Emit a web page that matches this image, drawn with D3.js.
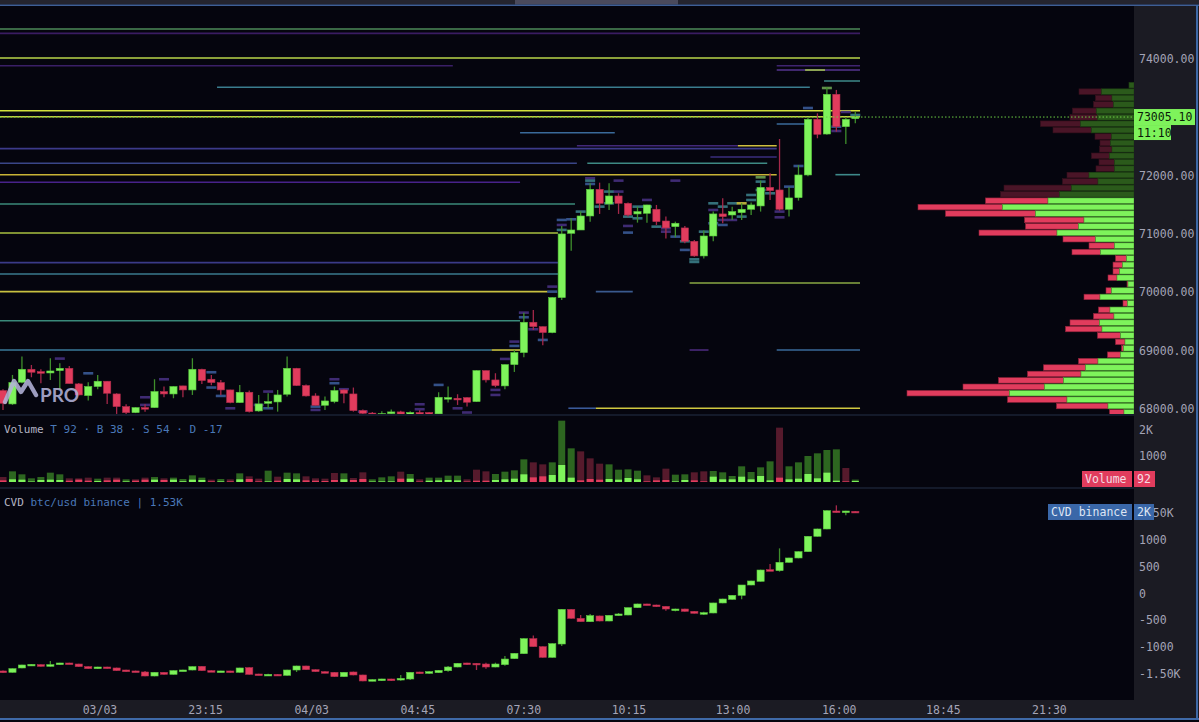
<!DOCTYPE html>
<html><head><meta charset="utf-8">
<script src="https://cdn.jsdelivr.net/npm/d3@7"></script>
<style>html,body{margin:0;padding:0;background:#05050e;overflow:hidden}</style>
</head><body><script>
// ---------------- DATA ----------------
// price candles [open, high, low, close], 15m bars
const priceOHLC = [
[68316,68340,67984,68098],[68087,68584,68070,68453],[68459,68898,68440,68681],[68681,68755,68544,68630],
[68641,68681,68442,68612],[68618,68870,68498,68652],[68658,68784,68339,68698],[68698,68738,68436,68436],
[68430,68445,68230,68241],[68230,68459,68144,68385],[68385,68584,68339,68476],[68476,68480,68087,68270],
[68258,68270,67915,68041],[68041,68081,67915,67938],[67938,68030,67930,68024],[68024,68081,67955,68001],
[68024,68510,68020,68299],[68299,68385,68201,68258],[68258,68390,68184,68385],[68396,68400,68201,68327],
[68327,68870,68241,68681],[68681,68690,68430,68487],[68510,68584,68408,68453],[68453,68498,68241,68327],
[68327,68330,68098,68110],[68110,68413,68105,68287],[68287,68316,67940,67955],[67967,68241,67955,68087],
[68098,68270,68012,68127],[68121,68327,67955,68241],[68253,68898,68213,68698],[68698,68705,68395,68402],
[68402,68420,68215,68224],[68224,68270,68060,68064],[68064,68213,67984,68138],[68127,68385,68098,68316],
[68327,68339,68098,68270],[68258,68368,67955,67972],[67972,67990,67910,67927],[67930,67950,67850,67900],
[67900,67960,67860,67920],[67920,67990,67880,67950],[67950,67970,67870,67910],[67910,67960,67870,67940],
[67940,67980,67880,67920],[67939,67950,67900,67916],[67916,68287,67900,68201],[68190,68384,68110,68196],
[68184,68253,68070,68156],[68196,68200,68041,68116],[68127,68665,68120,68658],[68658,68660,68453,68498],
[68498,68613,68373,68401],[68396,68765,68338,68761],[68761,69012,68635,68967],[68967,69652,68887,69487],
[69487,69698,69355,69412],[69412,69415,69093,69310],[69310,69915,69298,69910],[69910,71138,69870,71001],
[71012,71269,70715,71069],[71069,71384,71069,71309],[71309,71869,71212,71766],[71766,71880,71344,71526],
[71515,71869,71412,71652],[71652,71698,71344,71526],[71526,71538,71298,71326],[71344,71469,71195,71384],
[71355,71500,71195,71498],[71424,71498,71155,71212],[71223,71298,70921,71104],[71126,71212,70944,71184],
[71104,71138,70841,70875],[70875,70898,70612,70624],[70624,71058,70578,70966],[70966,71384,70875,71344],
[71344,71612,71184,71298],[71326,71469,71241,71384],[71366,71526,71241,71424],[71424,71538,71326,71498],
[71481,71915,71384,71800],[71800,72040,71583,71743],[71755,72629,71400,71424],[71424,71800,71298,71618],
[71623,72183,71572,72012],[72012,73000,71990,72966],[72966,73069,72641,72709],[72714,73515,72700,73395],
[73395,73470,72754,72840],[72840,72990,72543,72966],[72980,73090,72900,73005.1]
];
// CVD candles [open, high, low, close]
const cvdOHLC = [
[-1448,-1440,-1486,-1480],[-1473,-1400,-1480,-1405],[-1392,-1330,-1398,-1336],[-1343,-1318,-1348,-1324],
[-1330,-1324,-1367,-1361],[-1361,-1262,-1367,-1330],[-1330,-1295,-1336,-1299],[-1299,-1295,-1324,-1318],
[-1318,-1311,-1374,-1367],[-1367,-1361,-1411,-1405],[-1405,-1367,-1411,-1374],[-1374,-1367,-1405,-1399],
[-1392,-1386,-1448,-1442],[-1430,-1424,-1467,-1461],[-1448,-1442,-1473,-1467],[-1467,-1448,-1548,-1542],
[-1542,-1467,-1548,-1473],[-1473,-1467,-1517,-1511],[-1511,-1436,-1517,-1442],[-1448,-1424,-1454,-1430],
[-1430,-1361,-1436,-1367],[-1361,-1355,-1448,-1442],[-1442,-1436,-1467,-1461],[-1467,-1442,-1473,-1448],
[-1448,-1442,-1480,-1473],[-1473,-1386,-1480,-1392],[-1386,-1380,-1517,-1511],[-1505,-1498,-1529,-1523],
[-1529,-1498,-1536,-1511],[-1511,-1505,-1542,-1536],[-1529,-1424,-1536,-1430],[-1430,-1349,-1467,-1355],
[-1355,-1349,-1430,-1424],[-1424,-1418,-1467,-1461],[-1461,-1455,-1492,-1486],[-1473,-1467,-1560,-1554],
[-1554,-1467,-1560,-1473],[-1467,-1461,-1529,-1523],[-1523,-1517,-1642,-1635],[-1635,-1604,-1642,-1610],
[-1629,-1592,-1635,-1598],[-1598,-1592,-1635,-1629],[-1617,-1524,-1630,-1586],[-1598,-1470,-1617,-1474],
[-1468,-1462,-1498,-1492],[-1492,-1449,-1505,-1461],[-1480,-1430,-1486,-1436],[-1443,-1355,-1461,-1374],
[-1374,-1299,-1380,-1305],[-1299,-1293,-1336,-1330],[-1305,-1299,-1430,-1330],[-1318,-1293,-1405,-1374],
[-1374,-1293,-1380,-1318],[-1330,-1168,-1349,-1225],[-1218,-1112,-1224,-1118],[-1125,-838,-1131,-844],
[-844,-783,-994,-994],[-994,-988,-1199,-1193],[-1193,-932,-1199,-938],[-944,-290,-981,-296],
[-296,-290,-470,-464],[-464,-402,-527,-527],[-527,-383,-533,-414],[-420,-414,-520,-514],
[-514,-402,-520,-408],[-402,-364,-414,-383],[-402,-265,-408,-265],[-265,-190,-271,-196],
[-196,-190,-221,-215],[-215,-209,-252,-246],[-240,-234,-321,-290],[-308,-284,-333,-290],
[-290,-284,-339,-333],[-333,-327,-376,-370],[-377,-339,-401,-358],[-364,-171,-370,-177],
[-177,-97,-183,-103],[-109,-28,-115,-34],[-34,159,-109,159],[159,240,153,234],
[228,445,222,439],[445,551,420,420],[427,844,408,583],[583,670,577,664],
[664,788,658,782],[782,1075,776,1069],[1069,1212,1063,1206],[1206,1554,1200,1548],
[1542,1648,1511,1517],[1524,1548,1461,1542],[1536,1542,1511,1517]
];
// volume: total and highlighted (aggressive) part, side g/r
const volumeTotal = [192,410,295,141,192,359,295,141,141,167,128,167,167,103,103,167,192,141,167,115,256,167,90,115,103,333,218,128,436,205,
359,333,218,141,128,346,333,154,372,103,179,218,397,308,103,167,167,244,244,103,474,410,308,397,449,872,756,679,756,2359,
1295,1179,910,705,679,474,487,436,256,179,513,282,295,372,410,423,372,231,603,385,564,795,2090,603,756,1000,1103,1231,1256,538,92];
const volumeBright = [64,103,90,20,77,90,77,51,90,51,38,64,90,25,51,90,90,77,90,30,90,77,25,25,25,103,115,25,25,51,
115,103,64,51,38,77,103,77,115,20,25,25,128,128,20,51,64,77,64,20,51,51,77,103,128,295,179,218,269,654,
167,64,115,90,115,90,154,103,25,64,77,25,77,64,25,205,103,103,205,103,231,64,167,103,128,308,141,359,51,25,38];
const volumeSide = "rggggggrrrgrrgrrgrggggrgrgrrgrggrrrrgrrgggrgrggggrrrggggrrgggrrrggggrrrggrrgggggggrggggggrgr";
// right-side volume profile: level (row centre), buy and sell volume
const profileLevels = [73550,73440,73330,73220,73110,73000,72890,72780,72670,72560,72450,72340,72230,72120,72010,71900,71790,71680,
71570,71460,71350,71240,71130,71020,70910,70800,70690,70580,70470,70360,70250,70140,70030,69920,69810,69700,69590,69480,69370,
69260,69150,69040,68930,68820,68710,68600,68490,68380,68270,68160,68050,67940];
const profileBuy = [10,65,44,41,75,73,107,85,45,47,44,49,39,39,90,72,125,149,
172,263,197,100,111,154,77,39,67,15,23,29,34,12,45,68,13,48,40,69,64,
27,18,21,27,72,97,106,141,179,249,134,52,20];
const profileSell = [0,45,33,40,48,55,80,77,33,21,25,36,31,37,44,71,135,118,
125,169,180,119,106,156,65,51,57,22,19,13,18,2,11,32,9,23,41,59,73,
46,19,4,26,39,84,107,130,163,205,119,103,29];
const valueAreaHigh = 71620; // rows above are drawn dimmed
// order-book level lines [price, fromBar, toBar, colour]
const levelLines = [
[74514,-1,90.5,"#4c8a58"],[74440,-1,90.5,"#3a1c62"],[74017,-1,90.5,"#b8d64a"],[73885,-1,47.5,"#3a1f66"],
[73885,81.7,90.5,"#3f2470"],[73811,81.7,90.5,"#55358f"],[73811,84.7,86.8,"#a0c050"],[73623,86.7,90.5,"#3e8a8a"],
[73515,22.6,85.2,"#3a7d8e"],[73114,-1,90.5,"#d4e23c"],[73011,-1,90.5,"#c9cf3e"],[72886,81.7,85.2,"#3a6a9a"],
[72737,54.6,64.6,"#3a6a9a"],[72514,60.6,77.6,"#43287a"],[72514,77.6,81.7,"#d0c040"],[72463,-1,81.7,"#3c3a8a"],
[72320,74.7,81.7,"#3a2e7e"],[72212,-1,60.6,"#3a4688"],[72212,61.7,80.7,"#3e8a84"],[72017,-1,81.7,"#c8b436"],
[72017,87.9,90.5,"#3e8a8a"],[71887,-1,54.6,"#48228a"],[71515,-1,60.4,"#3b8a7a"],[71018,-1,58.6,"#a8c040"],
[70509,-1,58.6,"#3a3a88"],[70315,-1,58.6,"#3a7a8e"],[70161,72.5,90.5,"#8aa844"],[70012,-1,57.5,"#c8c040"],
[70012,62.6,66.5,"#3a5a8e"],[69514,-1,54.6,"#3a8a7a"],[69011,-1,51.6,"#3a7a9a"],[69011,51.6,54.6,"#c8c040"],
[69011,72.5,74.5,"#4a2a7a"],[69011,81.7,90.5,"#3a6a9a"],[68013,59.7,62.6,"#3a5a9a"],[68013,62.6,90.5,"#d0c840"]
];
// short order-book blips next to the candles [bar, price, kind]
const heatMarks = [
[6,68864,"p"],[9,68612,"b"],[15,68201,"p"],[15,68070,"p"],[17,68510,"p"],[22,68630,"b"],[22,68368,"b"],[23,68224,"b"],
[24,68012,"p"],[27,68070,"p"],[28,68299,"p"],[28,68012,"b"],[33,68041,"b"],[33,67984,"p"],[35,68510,"p"],[35,68442,"b"],
[36,68339,"p"],[38,67955,"p"],[44,68081,"p"],[44,67996,"p"],[46,68413,"b"],[48,68012,"p"],[49,67940,"p"],
[52,68241,"p"],[52,68327,"p"],[53,68858,"p"],[54,69155,"p"],[54,69081,"b"],[55,69652,"p"],[55,69573,"b"],
[56,69367,"p"],[57,69184,"b"],[58,70098,"p"],[58,70012,"b"],[59,71241,"b"],[59,71155,"p"],[59,71070,"t"],
[60,71252,"b"],[61,71384,"t"],[62,71955,"p"],[62,71915,"t"],[62,71858,"b"],[63,71469,"t"],[64,71727,"t"],[64,71526,"t"],
[65,71915,"p"],[65,71727,"p"],[66,71298,"t"],[66,71138,"p"],[66,71024,"b"],[67,71469,"t"],[67,71269,"t"],
[68,71584,"p"],[68,71469,"t"],[69,71126,"t"],[70,71098,"p"],[70,71040,"p"],[71,71915,"p"],[71,70955,"b"],
[72,70727,"b"],[72,70875,"t"],[73,70566,"t"],[73,70521,"t"],[74,71040,"t"],[75,71526,"t"],[75,71412,"p"],[75,71184,"b"],
[76,71469,"t"],[76,71241,"p"],[76,71155,"b"],[77,71526,"t"],[77,71241,"p"],[78,71526,"y"],[78,71298,"t"],
[79,71669,"t"],[79,71583,"t"],[80,71972,"g"],[80,71898,"t"],[80,71755,"t"],[81,71698,"t"],[82,71384,"p"],[82,71286,"p"],
[83,71812,"b"],[84,72166,"b"],[85,73160,"b"],[87,73503,"g"],[88,72766,"p"],[88,72840,"b"],[89,73092,"p"],[90,73040,"t"]
];
const priceTicks = [68000,69000,70000,71000,72000,73000,74000];
const volumeTicks = [1000,2000];
const cvdTicks = [-1500,-1000,-500,0,500,1000,1500];
const timeTickBars = [10.24,21.4,32.6,43.8,55.0,66.1,77.1,88.3,99.3,110.5];
const timeTickLabels = ["03/03","23:15","04/03","04:45","07:30","10:15","13:00","16:00","18:45","21:30"];
const lastPrice = 73005.10, countdown = "11:10";
const volumeHeader = {T:92,B:38,S:54,D:-17};
const cvdHeader = "btc/usd binance | 1.53K";

// ---------------- DRAW ----------------
const W = 1199, H = 722, AX = 1134;
const C = {bg:"#05050e", axis:"#1b1b23", txt:"#a4a4b6", up:"#7ef35b", dn:"#e13c5d", upW:"#3f8f2c", dnW:"#a5284a",
  upD:"#2d6620", dnD:"#561a2c", blue:"#4a78b8"};
const markCol = {p:"#46307e", b:"#3a5a96", t:"#3a7c86", y:"#c8c040", g:"#6aa050"};
const font = "'DejaVu Sans Mono', monospace";
const svg = d3.select("body").append("svg").attr("width",W).attr("height",H).style("display","block");
svg.append("rect").attr("width",W).attr("height",H).attr("fill",C.bg);

const x = d3.scaleLinear().domain([0, priceOHLC.length-1]).range([3, 855.3]);
const yP = d3.scaleLinear().domain([68000,74000]).range([409,59]);
const yV = d3.scaleLinear().domain([0,2000]).range([482,430]);
const yC = d3.scaleLinear().domain([-1000,1000]).range([647,540]);

const defs = svg.append("defs");
function clip(id,y0,y1){ defs.append("clipPath").attr("id",id).append("rect").attr("x",0).attr("y",y0).attr("width",AX).attr("height",y1-y0); }
clip("cp",6,414); clip("cv",415,487); clip("cc",489,700);

// price pane
const gP = svg.append("g").attr("clip-path","url(#cp)");
gP.selectAll("line.lvl").data(levelLines).join("line").attr("class","lvl")
  .attr("x1",d=>Math.max(0,x(d[1]))).attr("x2",d=>x(d[2])).attr("y1",d=>yP(d[0])).attr("y2",d=>yP(d[0]))
  .attr("stroke",d=>d[3]).attr("stroke-width",1.6);
gP.selectAll("rect.hm").data(heatMarks).join("rect").attr("class","hm")
  .attr("x",d=>x(d[0])-5).attr("y",d=>yP(d[1])-1.3).attr("width",10).attr("height",2.6)
  .attr("fill",d=>markCol[d[2]]).attr("opacity",0.9);

// volume profile
const rowH = yP(0) - yP(110);
const xProf = d3.scaleLinear().domain([0,100]).range([0,50]);
const gProf = gP.append("g");
profileLevels.forEach((lv,i)=>{
  const dim = lv > valueAreaHigh;
  const yy = yP(lv) - rowH/2 + 0.4, hh = rowH - 0.9;
  const bw = xProf(profileBuy[i]), sw = xProf(profileSell[i]);
  gProf.append("rect").attr("x",AX-bw-sw).attr("y",yy).attr("width",sw).attr("height",hh)
    .attr("fill",dim?"#4a1527":C.dn).attr("stroke",dim?"#35101c":"#8a2038").attr("stroke-width",0.6);
  gProf.append("rect").attr("x",AX-bw).attr("y",yy).attr("width",bw).attr("height",hh)
    .attr("fill",dim?"#2b5a1b":C.up).attr("stroke",dim?"#1f4213":"#4a9a30").attr("stroke-width",0.6);
});

function candles(g, data, y){
  const gg = g.append("g");
  data.forEach((d,i)=>{
    const [o,h,l,c] = d, up = c>=o, cx = x(i);
    gg.append("line").attr("x1",cx).attr("x2",cx).attr("y1",y(h)).attr("y2",y(l))
      .attr("stroke",up?C.upW:C.dnW).attr("stroke-width",1.3);
    const top = Math.min(y(o),y(c)), hh = Math.max(1.6, Math.abs(y(o)-y(c)));
    gg.append("rect").attr("x",cx-3.6).attr("y",top).attr("width",7.2).attr("height",hh)
      .attr("fill",up?C.up:C.dn).attr("stroke",up?"#5ac83e":"#b02c4c").attr("stroke-width",0.6);
  });
}
candles(gP, priceOHLC, yP);

// current price dotted line
svg.append("line").attr("x1",0).attr("x2",AX).attr("y1",yP(lastPrice)).attr("y2",yP(lastPrice))
  .attr("stroke","#6ccf45").attr("stroke-width",1).attr("stroke-dasharray","1.5,2");

// logo
const gL = svg.append("g").attr("opacity",0.88);
gL.append("path").attr("d","M5,402 L14,381 L21,392 L28,381 L36,395")
  .attr("fill","none").attr("stroke","#b3b3d8").attr("stroke-width",4.4).attr("stroke-linejoin","round").attr("stroke-linecap","round");
gL.append("text").attr("x",40).attr("y",402).text("PRO").attr("fill","#b3b3d8")
  .attr("font-family","Lato, 'Open Sans', sans-serif").attr("font-size",19).attr("font-weight",700);

// separators
[415,488].forEach(yy=>svg.append("line").attr("x1",0).attr("x2",AX).attr("y1",yy).attr("y2",yy).attr("stroke","#141a2a").attr("stroke-width",2));

// volume pane
const gV = svg.append("g").attr("clip-path","url(#cv)");
volumeTotal.forEach((v,i)=>{
  const up = volumeSide[i]==="g";
  gV.append("rect").attr("x",x(i)-3.5).attr("y",yV(v)).attr("width",7).attr("height",yV(0)-yV(v)).attr("fill",up?C.upD:C.dnD);
  const b = volumeBright[i];
  gV.append("rect").attr("x",x(i)-3.5).attr("y",yV(b)).attr("width",7).attr("height",yV(0)-yV(b)).attr("fill",up?C.up:C.dn);
});
const vh = svg.append("text").attr("x",4).attr("y",433).attr("font-family",font).attr("font-size",11);
vh.append("tspan").attr("fill","#b4b4c4").text("Volume ");
vh.append("tspan").attr("fill",C.blue).text(`T ${volumeHeader.T} · B ${volumeHeader.B} · S ${volumeHeader.S} · D ${volumeHeader.D}`);

// CVD pane
const gC = svg.append("g").attr("clip-path","url(#cc)");
candles(gC, cvdOHLC, yC);
const ch = svg.append("text").attr("x",4).attr("y",506).attr("font-family",font).attr("font-size",11);
ch.append("tspan").attr("fill","#b4b4c4").text("CVD ");
ch.append("tspan").attr("fill",C.blue).text(cvdHeader);

// right axis panel
svg.append("rect").attr("x",AX).attr("y",6).attr("width",W-AX).attr("height",694).attr("fill",C.axis);
// bottom axis band
svg.append("rect").attr("x",0).attr("y",700).attr("width",W).attr("height",18).attr("fill",C.axis);

function axisText(vals, y, fmt){
  svg.append("g").selectAll("text").data(vals).join("text").attr("x",AX+5).attr("y",d=>y(d))
    .attr("dy","0.35em").attr("fill",C.txt).attr("font-family",font).attr("font-size",11.5).text(fmt);
}
axisText(priceTicks, yP, d=>d3.format(".2f")(d));
axisText(volumeTicks, yV, d=> d>=2000 ? (d/1000)+"K" : d);
const kfmt = d => Math.abs(d)>=1500 ? (d<0?"-":"")+(Math.abs(d)/1000).toFixed(2)+"K" : String(d);
axisText(cvdTicks, yC, kfmt);

// time axis
svg.append("g").selectAll("text").data(timeTickBars).join("text").attr("x",d=>x(d)).attr("y",710)
  .attr("dy","0.35em").attr("text-anchor","middle").attr("fill",C.txt).attr("font-family",font).attr("font-size",11.5)
  .text((d,i)=>timeTickLabels[i]);

// labels on the axis
function tag(xx,yy,w,h,fill,txt,col){
  svg.append("rect").attr("x",xx).attr("y",yy).attr("width",w).attr("height",h).attr("fill",fill);
  svg.append("text").attr("x",xx+3).attr("y",yy+h/2).attr("dy","0.36em").attr("fill",col).attr("font-family",font).attr("font-size",11.5).text(txt);
}
const lp = yP(lastPrice);
tag(AX, lp-8, 61, 16, C.up, d3.format(".2f")(lastPrice), "#0a1a08");
tag(AX, lp+8, 37, 15, C.up, countdown, "#0a1a08");
tag(1082, 471, 50, 16, C.dn, "Volume", "#f4dce4");
tag(AX, 471, 21, 16, C.dn, String(volumeHeader.T), "#f4dce4");
tag(1048, 504, 84, 16, "#3a67a8", "CVD binance", "#dfe6f4");
tag(AX, 504, 20, 16, "#3a67a8", "2K", "#dfe6f4");

// frame
svg.append("rect").attr("x",0).attr("y",0).attr("width",W).attr("height",4.5).attr("fill","#24242e");
svg.append("rect").attr("x",515).attr("y",0).attr("width",163).attr("height",4.5).attr("fill","#4a4a5c");
svg.append("line").attr("x1",0).attr("x2",W).attr("y1",5.3).attr("y2",5.3).attr("stroke","#3f5f95").attr("stroke-width",1.6);
svg.append("line").attr("x1",0).attr("x2",W).attr("y1",719).attr("y2",719).attr("stroke","#3f6aa8").attr("stroke-width",2);
svg.append("line").attr("x1",1197).attr("x2",1197).attr("y1",5).attr("y2",720).attr("stroke","#3f6aa8").attr("stroke-width",2);
</script></body></html>
